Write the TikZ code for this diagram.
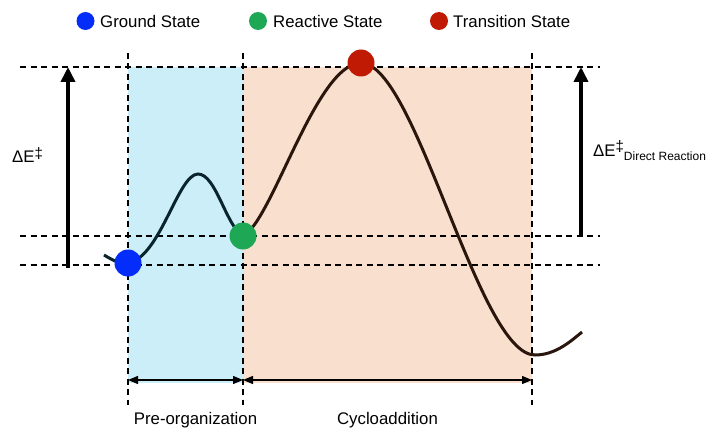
\documentclass[tikz,border=0pt]{standalone}
\usepackage{fontspec}
\setmainfont{Liberation Sans}
\usetikzlibrary{arrows.meta}
\definecolor{preblue}{RGB}{204,238,249}
\definecolor{cycloorange}{RGB}{249,224,206}
\definecolor{groundblue}{RGB}{5,45,250}
\definecolor{reactgreen}{RGB}{30,168,85}
\definecolor{transred}{RGB}{192,26,4}
\definecolor{pathteal}{RGB}{10,36,46}
\definecolor{pathbrown}{RGB}{42,22,12}
\newcommand{\barrierdag}{\raisebox{0.5ex}{\fontsize{15}{17}\selectfont ‡}}
\tikzset{
  guide/.style={line width=1.2pt, dash pattern=on 6pt off 4.5pt},
  state/.style={circle, inner sep=0pt, minimum size=27pt},
  keydot/.style={circle, inner sep=0pt, minimum size=18pt},
  keytext/.style={anchor=west, inner sep=0pt},
  barrier/.style={-{Triangle[width=14pt,length=15pt]}, line width=3.6pt},
  span/.style={{Triangle[width=8pt,length=10pt]}-{Triangle[width=8pt,length=10pt]}, line width=1.3pt},
  energy/.style={line width=3pt}
}
\begin{document}
\begin{tikzpicture}[x=1pt,y=-1pt,font=\fontsize{16.8}{19}\selectfont]
\useasboundingbox (0,0) rectangle (716,428);

% shaded stages
\fill [preblue] (128,67) rectangle (243,383);
\fill [cycloorange] (243,67) rectangle (532,383);

% energy levels
\coordinate (tsL) at (20,67);    \coordinate (tsR) at (600,67);
\coordinate (rsL) at (20,236);   \coordinate (rsR) at (600,236);
\coordinate (gsL) at (20,265);   \coordinate (gsR) at (600,265);
\draw [guide] (tsL) -- (tsR);
\draw [guide] (rsL) -- (rsR);
\draw [guide] (gsL) -- (gsR);

% stage borders
\coordinate (preT) at (128,53);   \coordinate (preB) at (128,405);
\coordinate (midT) at (243,53);   \coordinate (midB) at (243,405);
\coordinate (endT) at (532,53);   \coordinate (endB) at (532,405);
\draw [guide] (preT) -- (preB);
\draw [guide] (midT) -- (midB);
\draw [guide] (endT) -- (endB);

% reaction path
\draw [energy, pathteal] (104,255) .. controls (114,261) and (120,264) .. (128,263)
  .. controls (160,258) and (178,174) .. (198,174)
  .. controls (216,174) and (226,226) .. (243,236);
\draw [energy, pathbrown] (243,236) .. controls (272,222) and (316,63) .. (361,63)
  .. controls (416,63) and (478,355) .. (535,355)
  .. controls (555,355) and (570,342) .. (582,332);

% states
\node [state, fill=groundblue] (gs) at (128,263) {};
\node [state, fill=reactgreen] (rs) at (243,236) {};
\node [state, fill=transred] (ts) at (361,63) {};

% barriers
\coordinate (dEbot) at (68,268);   \coordinate (dEtop) at (68,67);
\draw [barrier] (dEbot) -- (dEtop);
\node [anchor=west, inner sep=0pt] (dE) at (12,155) {ΔE\barrierdag};
\coordinate (dDbot) at (581,236);  \coordinate (dDtop) at (581,67);
\draw [barrier] (dDbot) -- (dDtop);
\node [anchor=west, inner sep=0pt] (dD) at (593,151)
  {ΔE\barrierdag\raisebox{-0.5ex}{\fontsize{12}{14}\selectfont Direct Reaction}};

% stage spans
\coordinate (spanA) at (128,380);
\coordinate (spanB) at (243,380);
\coordinate (spanC) at (532,380);
\draw [span] (spanA) -- (spanB);
\draw [span] (spanB) -- (spanC);
\node (pre) at (195.5,420) {Pre-organization};
\node (cyclo) at (387.5,420) {Cycloaddition};

% legend
\node [keydot, fill=groundblue] (kgs) at (85.5,21) {};
\node [keytext] (kgst) at (100,21) {Ground State};
\node [keydot, fill=reactgreen] (krs) at (258,21) {};
\node [keytext] (krst) at (273,21) {Reactive State};
\node [keydot, fill=transred] (kts) at (439,21) {};
\node [keytext] (ktst) at (453,21) {Transition State};
\end{tikzpicture}
\end{document}
